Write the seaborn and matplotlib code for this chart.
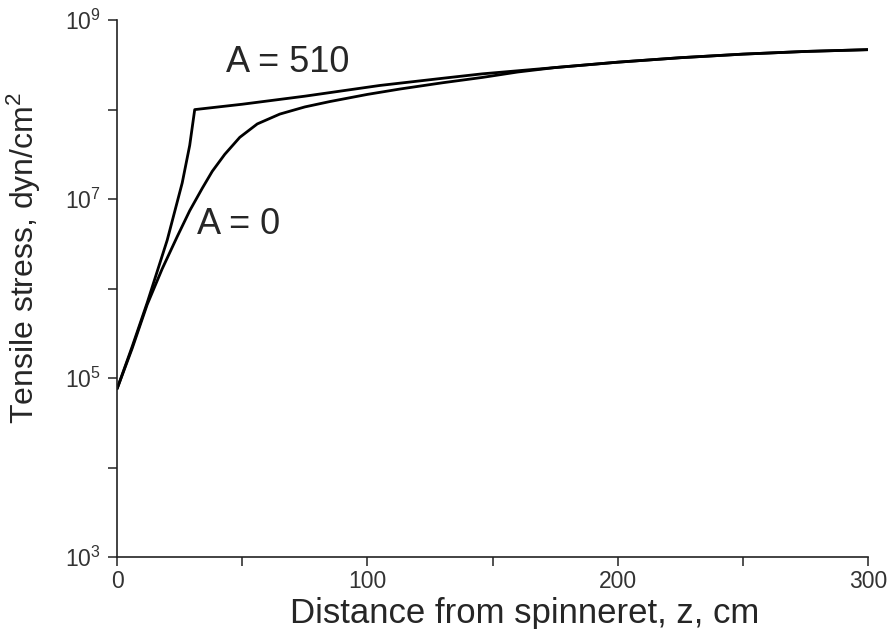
import numpy as np
import pandas as pd
import matplotlib
matplotlib.use("Agg")
import matplotlib.pyplot as plt
import seaborn as sns
from matplotlib.ticker import FixedLocator, NullFormatter

# -----------------------------
# Data (log10 of stress)
# -----------------------------
z_a510 = [0, 6, 12, 20, 26, 29, 31, 50, 75, 105, 130, 146, 175, 200, 225, 250, 275, 300]
log_a510 = [4.88, 5.35, 5.84, 6.54, 7.18, 7.60, 8.00, 8.06, 8.15, 8.27, 8.35, 8.40,
            8.47, 8.53, 8.58, 8.62, 8.65, 8.67]

z_a0 = [0, 6, 12, 18, 24, 29, 34, 38, 43, 49, 56, 65, 75, 85, 100, 113, 130, 146,
        160, 175, 200, 225, 250, 275, 300]
log_a0 = [4.88, 5.33, 5.82, 6.22, 6.58, 6.87, 7.12, 7.31, 7.50, 7.69, 7.84, 7.95,
          8.03, 8.09, 8.17, 8.23, 8.30, 8.36, 8.42, 8.47, 8.53, 8.58, 8.62, 8.65, 8.67]

x_ticks = [0, 100, 200, 300]
x_minor = [50, 150, 250]
y_ticks = [1e3, 1e5, 1e7, 1e9]
y_minor = [1e4, 1e6, 1e8]
y_labels = [r"$\mathregular{10^{3}}$", r"$\mathregular{10^{5}}$",
            r"$\mathregular{10^{7}}$", r"$\mathregular{10^{9}}$"]

df = pd.concat([
    pd.DataFrame({"z": z_a510, "stress": np.power(10.0, log_a510), "A": "510"}),
    pd.DataFrame({"z": z_a0, "stress": np.power(10.0, log_a0), "A": "0"}),
])

# -----------------------------
# Plot
# -----------------------------
sns.set_style("ticks")
plt.rcParams["font.family"] = ["Liberation Sans", "DejaVu Sans"]
plt.rcParams["mathtext.fontset"] = "custom"
plt.rcParams["mathtext.rm"] = "Liberation Sans"

fig = plt.figure(figsize=(8.94, 6.29), dpi=100)
ax = fig.add_axes([0.131, 0.1145, 0.84, 0.8535])

sns.lineplot(data=df, x="z", y="stress", units="A", estimator=None,
             color="black", lw=2.0, sort=False, ax=ax, legend=False)

ax.set_yscale("log")
ax.set_xlim(0, 300)
ax.set_ylim(1e3, 1e9)

ax.xaxis.set_major_locator(FixedLocator(x_ticks))
ax.xaxis.set_minor_locator(FixedLocator(x_minor))
ax.yaxis.set_major_locator(FixedLocator(y_ticks))
ax.yaxis.set_minor_locator(FixedLocator(y_minor))
ax.yaxis.set_minor_formatter(NullFormatter())
ax.set_yticklabels(y_labels)

ax.tick_params(which="both", direction="out", length=6.5, width=1.1,
               color="#222222", labelsize=16.5, labelcolor="#333333")
ax.tick_params(axis="y", pad=5.5)
ax.tick_params(axis="x", pad=3)
for s in ["left", "bottom"]:
    ax.spines[s].set_linewidth(1.2)
    ax.spines[s].set_color("#222222")
sns.despine(ax=ax)

ax.set_xlabel("Distance from spinneret, z, cm", fontsize=25)
ax.set_ylabel(r"Tensile stress, dyn/cm$\mathregular{^2}$", fontsize=23)
ax.xaxis.set_label_coords(0.542, -0.075)
ax.yaxis.set_label_coords(-0.131 + 24 / 751, 0.557)

ax.text(68, 10 ** 8.53, "A = 510", fontsize=26, ha="center", va="center")
ax.text(48.7, 10 ** 6.72, "A = 0", fontsize=26, ha="center", va="center")

fig.savefig("out.png", dpi=100)
